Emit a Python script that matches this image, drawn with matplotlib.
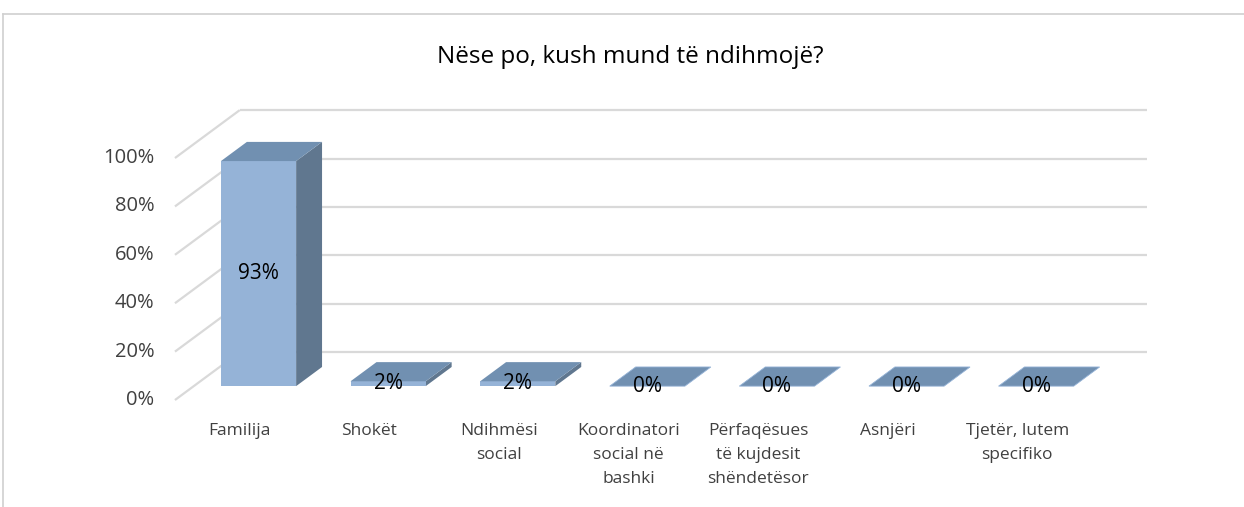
import matplotlib.pyplot as plt
from matplotlib.patches import Polygon
from matplotlib.lines import Line2D

# te dhenat
kategorite = ["Familija", "Shokët", "Ndihmësi\nsocial", "Koordinatori\nsocial në\nbashki",
              "Përfaqësues\ntë kujdesit\nshëndetësor", "Asnjëri", "Tjetër, lutem\nspecifiko"]
vlerat = [93, 2, 2, 0, 0, 0, 0]
etiketat = ["93%", "2%", "2%", "0%", "0%", "0%", "0%"]
ticks = [0, 20, 40, 60, 80, 100]
titulli = "Nëse po, kush mund të ndihmojë?"

# pamja e pjerret (si grafiku 3D i Excel)
DX, DY = 0.50, 19.8        # zhvendosja e murit te pasem
Z0, Z1 = 0.29, 0.69        # thellesia e shtyllave
GJER = 0.58                # gjeresia e shtyllave

c_para = "#95B3D7"
c_sip = "#7190B1"
c_anes = "#60778F"
c_grid = "#D9D9D9"

plt.rcParams["font.family"] = ["Open Sans", "DejaVu Sans"]

fig = plt.figure(figsize=(12.44, 5.07), dpi=100)
ax = fig.add_axes([0, 0, 1, 1])
ax.set_xlim(-1.850, 7.749)
ax.set_ylim(-44.2, 165.3)
ax.axis("off")

n = len(kategorite)
x0, x1 = -0.5, n - 0.5

# rrjeta: vijat e murit majtas dhe te murit te pasem
for t in ticks:
    ax.plot([x0, x0 + DX], [t, t + DY], color=c_grid, lw=1.6, solid_capstyle="butt", zorder=0)
    ax.plot([x0 + DX, x1 + DX], [t + DY, t + DY], color=c_grid, lw=1.6,
            solid_capstyle="butt", zorder=0)
    ax.text(x0 - 0.16, t, f"{t}%", ha="right", va="center", fontsize=14.5, color="#404040")


def proj(x, y, z):
    return (x + z * DX, y + z * DY)


for i, v in enumerate(vlerat):
    l, r = i - GJER / 2, i + GJER / 2
    if v > 0:
        # faqja e anes dhe faqja e perparme
        ax.add_patch(Polygon([proj(r, 0, Z0), proj(r, 0, Z1), proj(r, v, Z1), proj(r, v, Z0)],
                             closed=True, fc=c_anes, ec="none", zorder=2))
        ax.add_patch(Polygon([proj(l, 0, Z0), proj(r, 0, Z0), proj(r, v, Z0), proj(l, v, Z0)],
                             closed=True, fc=c_para, ec="none", zorder=2))
    # faqja e siperme
    ax.add_patch(Polygon([proj(l, v, Z0), proj(r, v, Z0), proj(r, v, Z1), proj(l, v, Z1)],
                         closed=True, fc=c_sip, ec=c_para if v == 0 else "none", lw=0.6,
                         zorder=2))
    cx, cy = proj(i, v / 2, Z0)
    ax.text(cx, cy, etiketat[i], ha="center", va="center", fontsize=15, color="black",
            zorder=3)
    ax.text(i, -9.3, kategorite[i], ha="center", va="top", fontsize=12.5,
            color="#404040", linespacing=1.7)

fig.text(0.507, 0.887, titulli, ha="center", va="center", fontsize=17.5, color="black")

# korniza e grafikut
fig.add_artist(Line2D([3 / 1244, 3 / 1244], [0, 1 - 14 / 507], color="#D0D0D0", lw=1.2))
fig.add_artist(Line2D([3 / 1244, 1], [1 - 14 / 507, 1 - 14 / 507], color="#D0D0D0", lw=1.2))

fig.savefig("out.png", dpi=100)
